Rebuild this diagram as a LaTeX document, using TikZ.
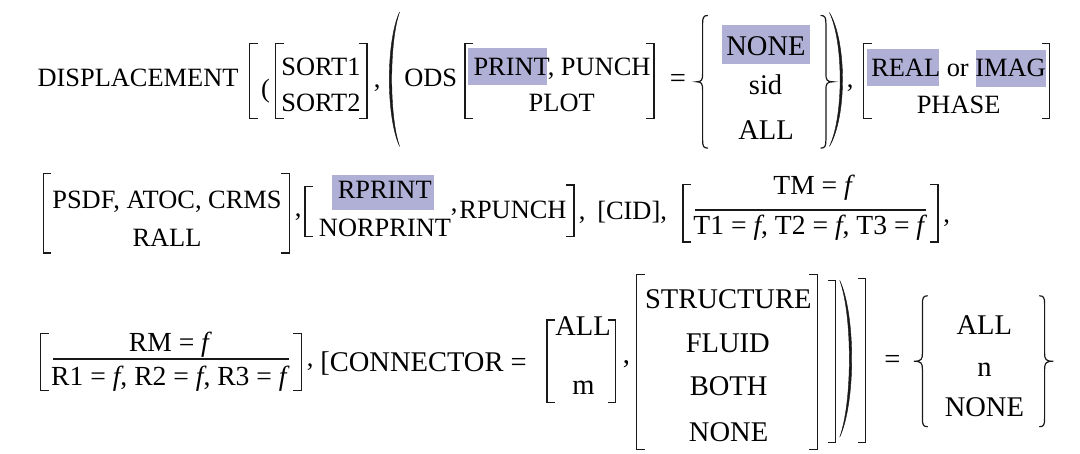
\documentclass[tikz,border=0pt]{standalone}
\usepackage{fontspec}
\setmainfont{Liberation Serif}
\definecolor{hlcol}{RGB}{176,176,214}
\definecolor{ink}{RGB}{25,25,25}
\newcommand\myLB[3]{\draw[brk] ({#1+8},#2) -- (#1,#2) -- (#1,#3) -- ({#1+8},#3);}
\newcommand\myRB[3]{\draw[brk] ({#1-8},#2) -- (#1,#2) -- (#1,#3) -- ({#1-8},#3);}
\newcommand\myLP[4]{\filldraw[ink,line width=0.3pt] (#1,#3) .. controls ({(#2-0.25*#1)/0.75},{#3+0.22*(#4-#3)}) and ({(#2-0.25*#1)/0.75},{#4-0.22*(#4-#3)}) .. (#1,#4) .. controls ({(#2+2.4-0.25*#1)/0.75},{#4-0.22*(#4-#3)}) and ({(#2+2.4-0.25*#1)/0.75},{#3+0.22*(#4-#3)}) .. (#1,#3) -- cycle;}
\newcommand\myRP[4]{\filldraw[ink,line width=0.3pt] (#1,#3) .. controls ({(#2-0.25*#1)/0.75},{#3+0.22*(#4-#3)}) and ({(#2-0.25*#1)/0.75},{#4-0.22*(#4-#3)}) .. (#1,#4) .. controls ({(#2-2.4-0.25*#1)/0.75},{#4-0.22*(#4-#3)}) and ({(#2-2.4-0.25*#1)/0.75},{#3+0.22*(#4-#3)}) .. (#1,#3) -- cycle;}
\newcommand\myLC[4]{\draw[brc] ({#1+5},#3) .. controls ({#1+1},#3) and (#1,{#3+2}) .. (#1,{#3+8}) -- (#1,{(#3+#4)/2-8}) .. controls (#1,{(#3+#4)/2-2}) and ({#1-1},{(#3+#4)/2}) .. (#2,{(#3+#4)/2}) .. controls ({#1-1},{(#3+#4)/2}) and (#1,{(#3+#4)/2+2}) .. (#1,{(#3+#4)/2+8}) -- (#1,{#4-8}) .. controls (#1,{#4-2}) and ({#1+1},#4) .. ({#1+5},#4);}
\newcommand\myRC[4]{\draw[brc] ({#1-5},#3) .. controls ({#1-1},#3) and (#1,{#3+2}) .. (#1,{#3+8}) -- (#1,{(#3+#4)/2-8}) .. controls (#1,{(#3+#4)/2-2}) and ({#1+1},{(#3+#4)/2}) .. (#2,{(#3+#4)/2}) .. controls ({#1+1},{(#3+#4)/2}) and (#1,{(#3+#4)/2+2}) .. (#1,{(#3+#4)/2+8}) -- (#1,{#4-8}) .. controls (#1,{#4-2}) and ({#1-1},#4) .. ({#1-5},#4);}
\begin{document}
\begin{tikzpicture}[x=0.75pt,y=-0.75pt,
  txt/.style={anchor=base, inner sep=0pt, font=\fontsize{19.8}{24}\selectfont},
  big/.style={txt, font=\fontsize{21.4}{26}\selectfont},
  fr/.style={txt, font=\fontsize{20.7}{25}\selectfont},
  brk/.style={ink, line width=0.9pt, line cap=butt, line join=miter},
  brc/.style={ink, line width=0.9pt, line cap=round},
  frl/.style={ink, line width=1.5pt}]
\fill[white] (0,0) rectangle (1080,453);
\useasboundingbox (0,0) rectangle (1080,453);
% highlights
\fill[hlcol] (468.3,48.3) rectangle (547.3,85);
\fill[hlcol] (721.9,24.8) rectangle (810.4,64.4);
\fill[hlcol] (867.2,49) rectangle (938.9,86);
\fill[hlcol] (975.8,50) rectangle (1046.4,87);
\fill[hlcol] (331.7,175) rectangle (434,210);
% row 1
\node[txt,anchor=base west] (disp) at (37.3,86.7) {DISPLACEMENT};
\node[txt,anchor=center] (lp) at (265.6,91) {(};
\node[txt] (s1) at (320.9,75) {SORT1};
\node[txt] (s2) at (320.9,111.7) {SORT2};
\node[txt,anchor=base west] (c1) at (373.5,88) {,};
\node[txt] (ods) at (430.7,86.7) {ODS};
\node[txt] (pp) at (562,75) {PRINT, PUNCH};
\node[txt] (plot) at (561.7,111.7) {PLOT};
\node[big] (eq1) at (677.8,87.5) {=};
\node[big] (none1) at (766,55.1) {NONE};
\node[big] (sid) at (765.6,94.7) {sid};
\node[big] (all1) at (766.1,139.5) {ALL};
\node[txt,anchor=base west] (c2) at (846.5,88) {,};
\node[txt] (ri) at (958.5,76) {REAL or IMAG};
\node[txt] (phase) at (958.6,113) {PHASE};
\myLB{249.7}{43.5}{118.5}
\myLB{275.6}{43.5}{118.5}
\myRB{366.9}{43.5}{118.5}
\myLP{399.6}{389.3}{12}{146.4}
\myLB{465}{43.5}{118.5}
\myRB{654}{43.5}{118.5}
\myLC{702.6}{696.7}{15.5}{148.1}
\myRC{825.9}{832.8}{15.5}{148.1}
\myRP{829.4}{842.5}{12.5}{146.4}
\myLB{863.8}{43.5}{118.5}
\myRB{1049.8}{43.5}{118.5}
% row 2
\node[txt] (psdf) at (167,208.2) {PSDF, ATOC, CRMS};
\node[txt] (rall) at (167,246.1) {RALL};
\node[txt,anchor=base west] (c3) at (294.5,216) {,};
\node[txt] (rprint) at (384.7,198.3) {RPRINT};
\node[txt] (norprint) at (385,236.7) {NORPRINT};
\node[txt,anchor=base west] (c4) at (450.5,211) {,};
\node[txt] (rpunch) at (513,218.3) {RPUNCH};
\node[txt,anchor=base west] (c5) at (578.5,219) {,};
\node[txt,anchor=base west] (cid) at (597,219) {[CID],};
\node[fr] (tm) at (814.2,194.4) {TM = \textit{f}};
\node[fr] (tt) at (810.4,234) {T1 = \textit{f}, T2 = \textit{f}, T3 = \textit{f}};
\node[txt,anchor=base west] (c6) at (943,222) {,};
\draw[frl] (695,210) -- (925.8,210);
\myLB{43.1}{173.8}{253}
\myRB{289.4}{173.8}{253}
\myLB{305}{186.7}{236.7}
\myRB{574}{185}{236.7}
\myLB{683}{184.8}{242}
\myRB{937.9}{184.8}{242}
% row 3
\node[fr] (rm) at (170.5,351) {RM = \textit{f}};
\node[fr] (rr) at (170.5,385.4) {R1 = \textit{f}, R2 = \textit{f}, R3 = \textit{f}};
\draw[frl] (53.4,358.9) -- (289.4,358.9);
\node[txt,anchor=base west] (c7) at (306.5,366) {,};
\node[big,anchor=base west] (conn) at (320,371.6) {[CONNECTOR =};
\node[big] (all2) at (583,335.4) {ALL};
\node[big] (m) at (583.5,394) {m};
\node[big,anchor=base west] (c8) at (622.5,363) {,};
\node[big] (str) at (728.3,308.3) {STRUCTURE};
\node[big] (fluid) at (727.8,352.7) {FLUID};
\node[big] (both) at (728.6,395.7) {BOTH};
\node[big] (none2) at (728.6,441.5) {NONE};
\node[big] (eq2) at (892.3,368) {=};
\node[big] (all3) at (984.3,334.8) {ALL};
\node[big] (n) at (984.4,376.8) {n};
\node[big] (none3) at (984.4,416.4) {NONE};
\myLB{40.6}{333.7}{390.6}
\myRB{301.4}{333.7}{390.6}
\myLB{546.9}{320}{402.6}
\myRB{615.8}{320}{402.6}
\myLB{636.5}{274.1}{449.1}
\myRB{817.3}{274.1}{449.1}
\myRB{835.6}{280.3}{442.2}
\myRP{839.7}{851.7}{280.3}{437.1}
\myRB{865.5}{278.6}{442.2}
\myLC{922.4}{913.8}{295.8}{426.7}
\myRC{1044.6}{1053.3}{295.8}{426.7}
\end{tikzpicture}
\end{document}
